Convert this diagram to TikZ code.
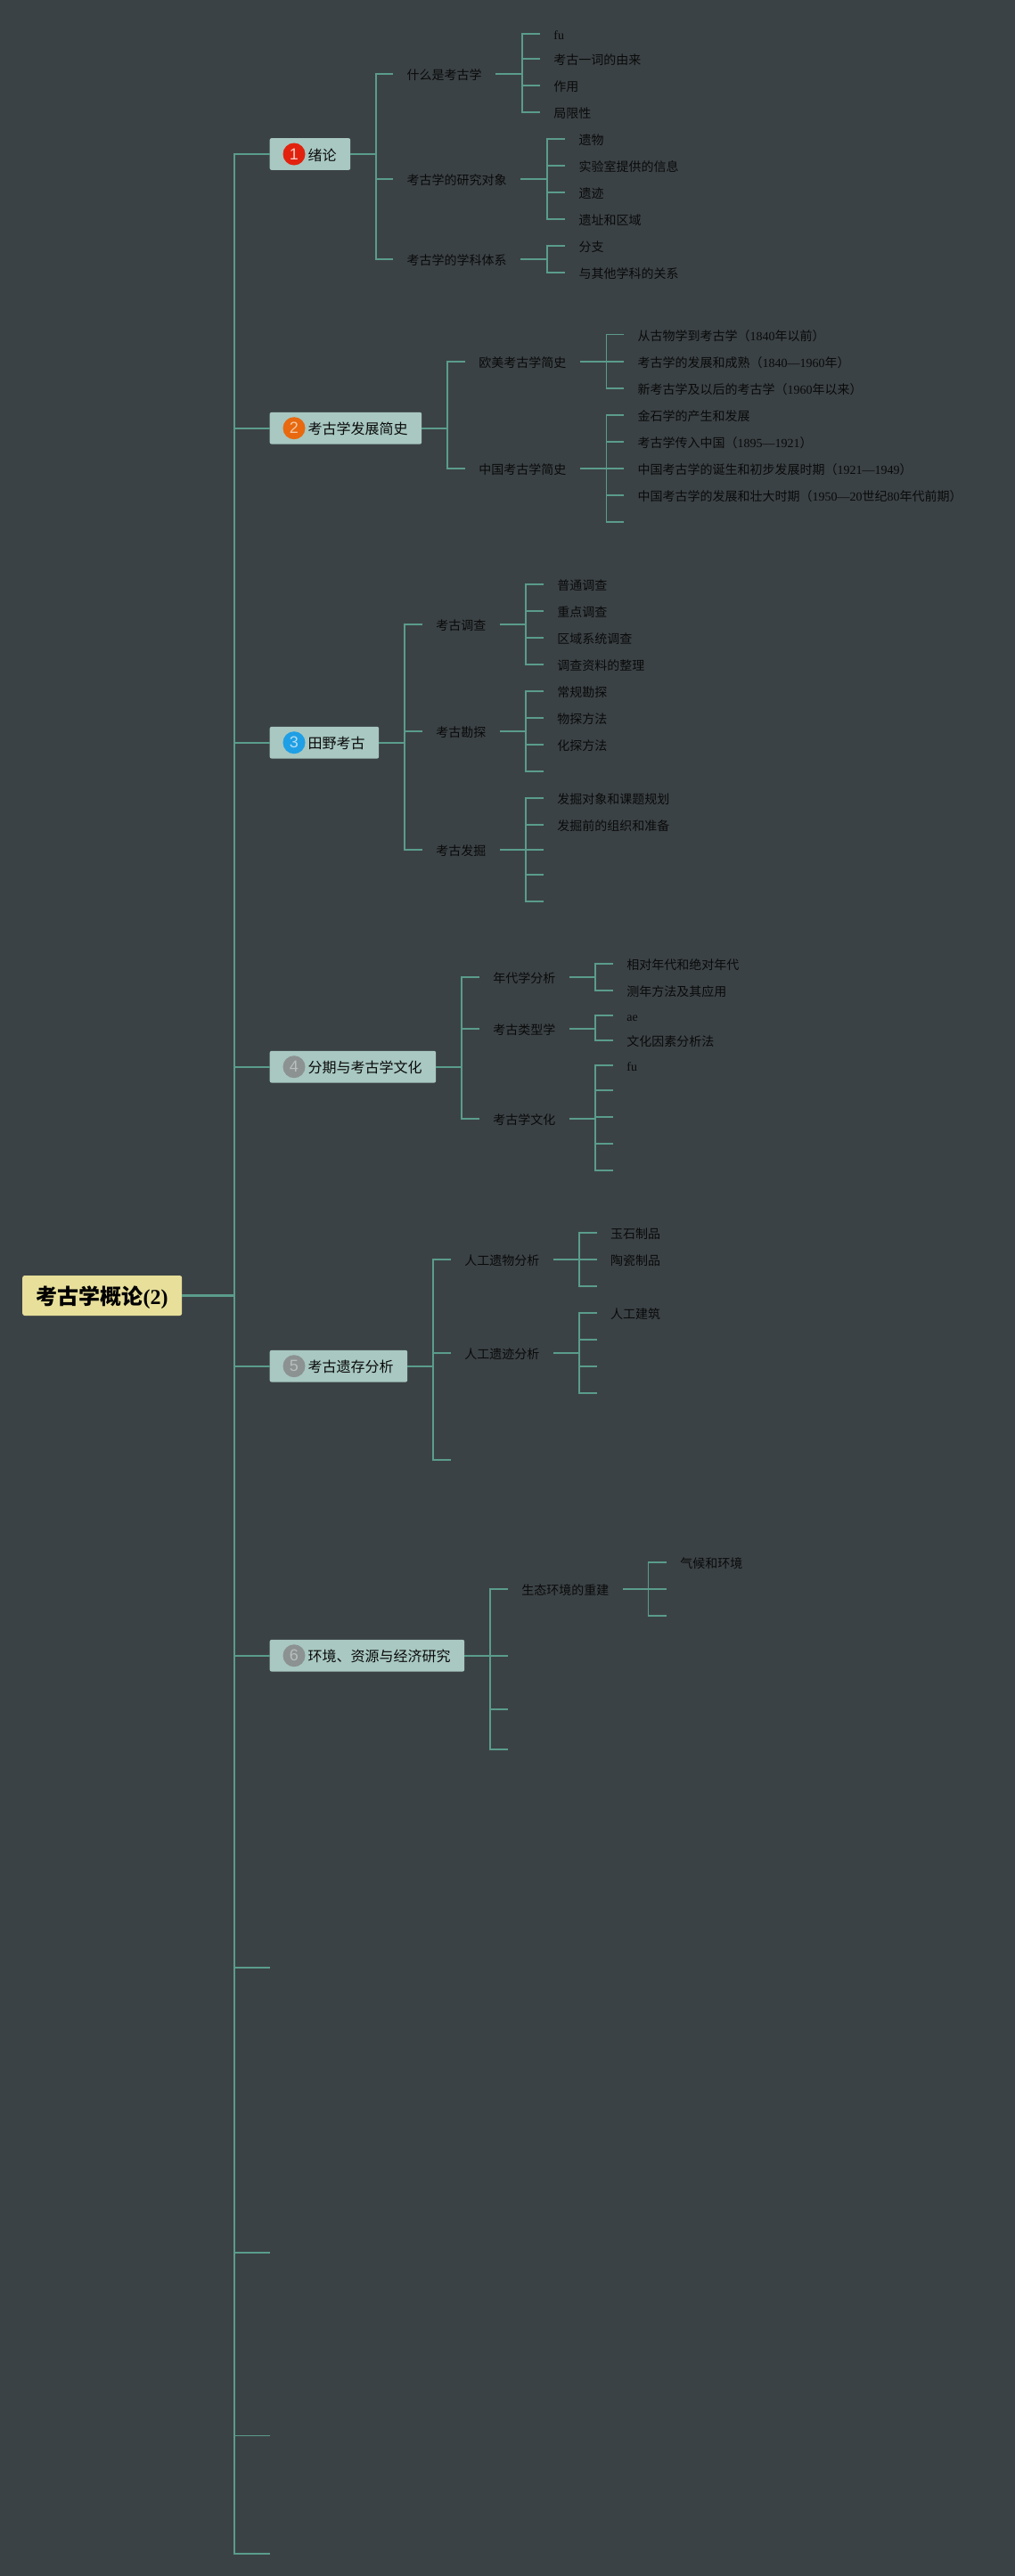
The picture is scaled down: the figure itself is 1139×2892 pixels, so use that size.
\documentclass[tikz,border=0pt]{standalone}
\usepackage{fontspec}
\setmainfont{Liberation Serif}
\newfontfamily\cjk{Noto Sans CJK SC}
\newfontfamily\badgefont{Liberation Sans}
\newcommand{\z}[1]{{\cjk #1}}
\definecolor{bgc}{HTML}{3B4245}
\definecolor{linec}{HTML}{5A9C8C}
\definecolor{boxc}{HTML}{A8C8C1}
\definecolor{rootc}{HTML}{E8DF9A}
\definecolor{txtc}{HTML}{0A0A0A}
\definecolor{bred}{HTML}{E2220E}
\definecolor{borange}{HTML}{E8690F}
\definecolor{bblue}{HTML}{1F9FE5}
\definecolor{bgray}{HTML}{8C9191}
\definecolor{dpink}{HTML}{F6CFC6}
\definecolor{dorange}{HTML}{F5C9A6}
\definecolor{dblue}{HTML}{B5DDF2}
\definecolor{dgray}{HTML}{B8BFBD}
\tikzset{
  link/.style={draw=linec,line width=1.8pt,line join=miter},
  rootbox/.style={anchor=west,fill=rootc,rounded corners=2.5pt,inner xsep=15.5pt,inner ysep=0pt,minimum height=45pt,text=black,font=\fontsize{24}{26}\selectfont\bfseries,text height=23pt,text depth=3pt},
  mainbox/.style={anchor=west,fill=boxc,rounded corners=2pt,inner xsep=15.5pt,inner ysep=0pt,minimum height=35.7pt,text=txtc,font=\fontsize{16}{18}\selectfont,text height=16pt,text depth=1.8pt},
  subtext/.style={anchor=west,inner xsep=15.5pt,inner ysep=0pt,text=txtc,font=\fontsize{14}{16}\selectfont,text height=14pt,text depth=0.8pt},
  badge/.style={circle,inner sep=0pt,minimum size=25pt,font=\fontsize{18}{20}\selectfont\badgefont},
}
\newcommand{\mainnode}[6]{% name, y, text, badge colour, digit, digit colour
  \node[mainbox] (#1) at (302.5,#2) {\hspace*{27.5pt}\z{#3}};
  \node[badge,fill=#4,text=#6] (#1i) at ([xshift=27.5pt]#1.west) {#5};
}
\newcommand{\lnk}[3]{\draw[link] (#1.east) -- (#1.east -| #2) |- (#3);}
\begin{document}
\begin{tikzpicture}[x=1pt,y=-1pt]
\useasboundingbox (0,0) rectangle (1139,2892);
\fill[bgc] (0,0) rectangle (1139,2892);

\coordinate (T) at (263,0);

% root and first level
\node[rootbox] (root) at (25,1454.5) {\z{考古学概论}(2)};
\mainnode{n1}{173}{绪论}{bred}{1}{dpink}
\mainnode{n2}{480.7}{考古学发展简史}{borange}{2}{dorange}
\mainnode{n3}{833.7}{田野考古}{bblue}{3}{dblue}
\mainnode{n4}{1197.7}{分期与考古学文化}{bgray}{4}{dgray}
\mainnode{n5}{1533.7}{考古遗存分析}{bgray}{5}{dgray}
\mainnode{n6}{1858.7}{环境、资源与经济研究}{bgray}{6}{dgray}
\coordinate (n7) at (303,2209);
\coordinate (n8) at (303,2529);
\coordinate (n9) at (303,2734.5);
\coordinate (n10) at (303,2867);
\draw[link,line width=2pt] (root.east) -- (root.east -| T) |- (n1.west);
\draw[link,line width=2pt] (root.east -| T) |- (n10);
\draw[link,line width=2.6pt] (root.east) -- (root.east -| T);
\foreach \t in {n2.west,n3.west,n4.west,n5.west,n6.west,n7,n8,n9}
  \draw[link] (T |- \t) -- (\t);

% 1
\coordinate (b1) at (422,0);
\node[subtext] (a1) at (441,82.7) {\z{什么是考古学}};
\node[subtext] (a2) at (441,201) {\z{考古学的研究对象}};
\node[subtext] (a3) at (441,291) {\z{考古学的学科体系}};
\lnk{n1}{b1}{a1.west} \lnk{n1}{b1}{a2.west} \lnk{n1}{b1}{a3.west}
\coordinate (b11) at (586,0);
\node[subtext] (a11) at (605.7,38) {fu};
\node[subtext] (a12) at (605.7,66) {\z{考古一词的由来}};
\node[subtext] (a13) at (605.7,96) {\z{作用}};
\node[subtext] (a14) at (605.7,126) {\z{局限性}};
\lnk{a1}{b11}{a11.west} \lnk{a1}{b11}{a12.west} \lnk{a1}{b11}{a13.west} \lnk{a1}{b11}{a14.west}
\coordinate (b12) at (614,0);
\node[subtext] (a21) at (634,155.7) {\z{遗物}};
\node[subtext] (a22) at (634,185.7) {\z{实验室提供的信息}};
\node[subtext] (a23) at (634,215.7) {\z{遗迹}};
\node[subtext] (a24) at (634,245.7) {\z{遗址和区域}};
\lnk{a2}{b12}{a21.west} \lnk{a2}{b12}{a22.west} \lnk{a2}{b12}{a23.west} \lnk{a2}{b12}{a24.west}
\node[subtext] (a31) at (634,276) {\z{分支}};
\node[subtext] (a32) at (634,306) {\z{与其他学科的关系}};
\lnk{a3}{b12}{a31.west} \lnk{a3}{b12}{a32.west}

% 2
\coordinate (b2) at (502,0);
\node[subtext] (c1) at (521.7,406) {\z{欧美考古学简史}};
\node[subtext] (c2) at (521.7,526) {\z{中国考古学简史}};
\lnk{n2}{b2}{c1.west} \lnk{n2}{b2}{c2.west}
\coordinate (b21) at (680.5,0);
\node[subtext] (c11) at (700,375.5) {\z{从古物学到考古学（}1840\z{年以前）}};
\node[subtext] (c12) at (700,406) {\z{考古学的发展和成熟（}1840—1960\z{年）}};
\node[subtext] (c13) at (700,436) {\z{新考古学及以后的考古学（}1960\z{年以来）}};
\lnk{c1}{b21}{c11.west} \lnk{c1}{b21}{c12.west} \lnk{c1}{b21}{c13.west}
\node[subtext] (c21) at (700,466) {\z{金石学的产生和发展}};
\node[subtext] (c22) at (700,496) {\z{考古学传入中国（}1895—1921\z{）}};
\node[subtext] (c23) at (700,526) {\z{中国考古学的诞生和初步发展时期（}1921—1949\z{）}};
\node[subtext] (c24) at (700,556) {\z{中国考古学的发展和壮大时期（}1950—20\z{世纪}80\z{年代前期）}};
\coordinate (c25) at (700,586);
\lnk{c2}{b21}{c21.west} \lnk{c2}{b21}{c22.west} \lnk{c2}{b21}{c23.west} \lnk{c2}{b21}{c24.west} \lnk{c2}{b21}{c25}

% 3
\coordinate (b3) at (453.7,0);
\node[subtext] (d1) at (473.7,700.7) {\z{考古调查}};
\node[subtext] (d2) at (473.7,821) {\z{考古勘探}};
\node[subtext] (d3) at (473.7,953.7) {\z{考古发掘}};
\lnk{n3}{b3}{d1.west} \lnk{n3}{b3}{d2.west} \lnk{n3}{b3}{d3.west}
\coordinate (b31) at (590,0);
\node[subtext] (d11) at (609.7,655.7) {\z{普通调查}};
\node[subtext] (d12) at (609.7,686) {\z{重点调查}};
\node[subtext] (d13) at (609.7,716) {\z{区域系统调查}};
\node[subtext] (d14) at (609.7,746) {\z{调查资料的整理}};
\lnk{d1}{b31}{d11.west} \lnk{d1}{b31}{d12.west} \lnk{d1}{b31}{d13.west} \lnk{d1}{b31}{d14.west}
\node[subtext] (d21) at (609.7,775.7) {\z{常规勘探}};
\node[subtext] (d22) at (609.7,806) {\z{物探方法}};
\node[subtext] (d23) at (609.7,836) {\z{化探方法}};
\coordinate (d24) at (609.7,866);
\lnk{d2}{b31}{d21.west} \lnk{d2}{b31}{d22.west} \lnk{d2}{b31}{d23.west} \lnk{d2}{b31}{d24}
\node[subtext] (d31) at (609.7,896) {\z{发掘对象和课题规划}};
\node[subtext] (d32) at (609.7,926) {\z{发掘前的组织和准备}};
\coordinate (d33) at (609.7,953.7);
\coordinate (d34) at (609.7,982);
\coordinate (d35) at (609.7,1012);
\lnk{d3}{b31}{d31.west} \lnk{d3}{b31}{d32.west} \lnk{d3}{b31}{d33} \lnk{d3}{b31}{d34} \lnk{d3}{b31}{d35}

% 4
\coordinate (b4) at (517.7,0);
\node[subtext] (e1) at (537.7,1097) {\z{年代学分析}};
\node[subtext] (e2) at (537.7,1155) {\z{考古类型学}};
\node[subtext] (e3) at (537.7,1256) {\z{考古学文化}};
\lnk{n4}{b4}{e1.west} \lnk{n4}{b4}{e2.west} \lnk{n4}{b4}{e3.west}
\coordinate (b41) at (667.7,0);
\node[subtext] (e11) at (687.7,1081.7) {\z{相对年代和绝对年代}};
\node[subtext] (e12) at (687.7,1112) {\z{测年方法及其应用}};
\lnk{e1}{b41}{e11.west} \lnk{e1}{b41}{e12.west}
\node[subtext] (e21) at (687.7,1140) {ae};
\node[subtext] (e22) at (687.7,1168) {\z{文化因素分析法}};
\lnk{e2}{b41}{e21.west} \lnk{e2}{b41}{e22.west}
\node[subtext] (e31) at (687.7,1196) {fu};
\coordinate (e32) at (687.7,1224);
\coordinate (e33) at (687.7,1254);
\coordinate (e34) at (687.7,1284);
\coordinate (e35) at (687.7,1314);
\lnk{e3}{b41}{e31.west} \lnk{e3}{b41}{e32} \lnk{e3}{b41}{e33} \lnk{e3}{b41}{e34} \lnk{e3}{b41}{e35}

% 5
\coordinate (b5) at (486,0);
\node[subtext] (f1) at (505.7,1414) {\z{人工遗物分析}};
\node[subtext] (f2) at (505.7,1519) {\z{人工遗迹分析}};
\coordinate (f3) at (505.7,1638.7);
\lnk{n5}{b5}{f1.west} \lnk{n5}{b5}{f2.west} \lnk{n5}{b5}{f3}
\coordinate (b51) at (650,0);
\node[subtext] (f11) at (669.5,1384) {\z{玉石制品}};
\node[subtext] (f12) at (669.5,1414) {\z{陶瓷制品}};
\coordinate (f13) at (669.5,1444);
\lnk{f1}{b51}{f11.west} \lnk{f1}{b51}{f12.west} \lnk{f1}{b51}{f13}
\node[subtext] (f21) at (669.5,1474) {\z{人工建筑}};
\coordinate (f22) at (669.5,1504);
\coordinate (f23) at (669.5,1534);
\coordinate (f24) at (669.5,1564);
\lnk{f2}{b51}{f21.west} \lnk{f2}{b51}{f22} \lnk{f2}{b51}{f23} \lnk{f2}{b51}{f24}

% 6
\coordinate (b6) at (549.8,0);
\node[subtext] (g1) at (569.7,1783.7) {\z{生态环境的重建}};
\coordinate (g2) at (569.7,1858.7);
\coordinate (g3) at (569.7,1918.7);
\coordinate (g4) at (569.7,1963.7);
\lnk{n6}{b6}{g1.west} \lnk{n6}{b6}{g2} \lnk{n6}{b6}{g3} \lnk{n6}{b6}{g4}
\coordinate (b61) at (727.4,0);
\node[subtext] (g11) at (747.7,1753.7) {\z{气候和环境}};
\coordinate (g12) at (747.7,1783.7);
\coordinate (g13) at (747.7,1813.7);
\lnk{g1}{b61}{g11.west} \lnk{g1}{b61}{g12} \lnk{g1}{b61}{g13}
\end{tikzpicture}
\end{document}
